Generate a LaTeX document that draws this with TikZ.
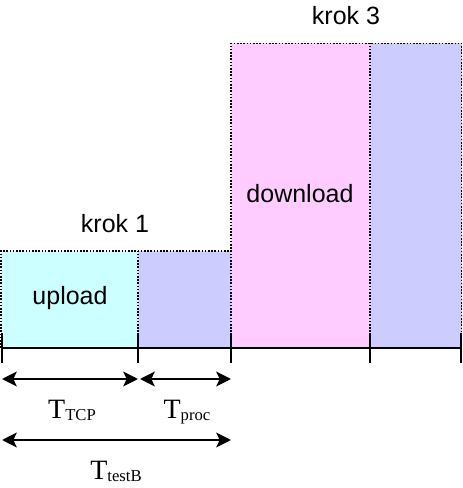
\documentclass[tikz,border=0pt]{standalone}
\usepackage{fontspec}
\setmainfont{Liberation Serif}
\setsansfont{Liberation Sans}
\usetikzlibrary{arrows.meta}

\definecolor{upcol}{HTML}{CCFFFF}
\definecolor{proccol}{HTML}{CCCCFF}
\definecolor{downcol}{HTML}{FFCCFF}

% label T with subscript
\newcommand{\tlab}[1]{{\fontsize{21}{24}\selectfont T}{\fontsize{12.5}{14}\selectfont\raisebox{-1pt}{#1}}}

\tikzset{
  boxedge/.style={line width=0.8pt, dash pattern=on 1.2pt off 1.2pt},
  tick/.style={line width=1.9pt},
  dimarrow/.style={line width=1.8pt, {Stealth[length=11pt,width=11pt,inset=2.5pt]}-{Stealth[length=11pt,width=11pt,inset=2.5pt]}},
  steptext/.style={font=\sffamily\fontsize{18.75}{22}\selectfont, anchor=base}
}

\begin{document}
\begin{tikzpicture}[x=0.75pt,y=0.75pt]
\useasboundingbox (0,0) rectangle (463,488);

% boxes
\fill[upcol] (1,140) rectangle (138,237);
\fill[proccol] (138,140) rectangle (231,237);
\fill[downcol] (231,140) rectangle (370,444.5);
\fill[proccol] (370,140) rectangle (461.5,444.5);
\draw[boxedge] (1,140) -- (1,237) -- (231,237);
\draw[boxedge] (138,140) -- (138,237);
\draw[boxedge] (231,140) -- (231,444.5) -- (461.5,444.5) -- (461.5,140);
\draw[boxedge] (370,140) -- (370,444.5);

% texts in boxes
\node[steptext] (up) at (70,183) {upload};
\node[steptext] (down) at (300,285) {download};
\node[steptext] (krok1) at (115,255) {krok 1};
\node[steptext] (krok3) at (346,463) {krok 3};

% time axis
\draw[line width=1.6pt] (1,140) -- (462,140);
\foreach \x/\n in {2/t0, 138/t1, 231/t2, 370/t3, 461/t4} {
  \draw[tick] (\x,125) -- (\x,155);
  \coordinate (\n) at (\x,109);
}
\coordinate (t1b) at (140,109);
\coordinate (s0) at (2,48);
\coordinate (s1) at (231,48);

% time spans
\draw[dimarrow] (t0) -- (t1);
\draw[dimarrow] (t1b) -- (t2);
\draw[dimarrow] (s0) -- (s1);
\node[anchor=base] (tcp) at (72,69) {\tlab{TCP}};
\node[anchor=base] (tproc) at (187,69) {\tlab{proc}};
\node[anchor=base] (ttest) at (116,8) {\tlab{testB}};

\end{tikzpicture}
\end{document}
